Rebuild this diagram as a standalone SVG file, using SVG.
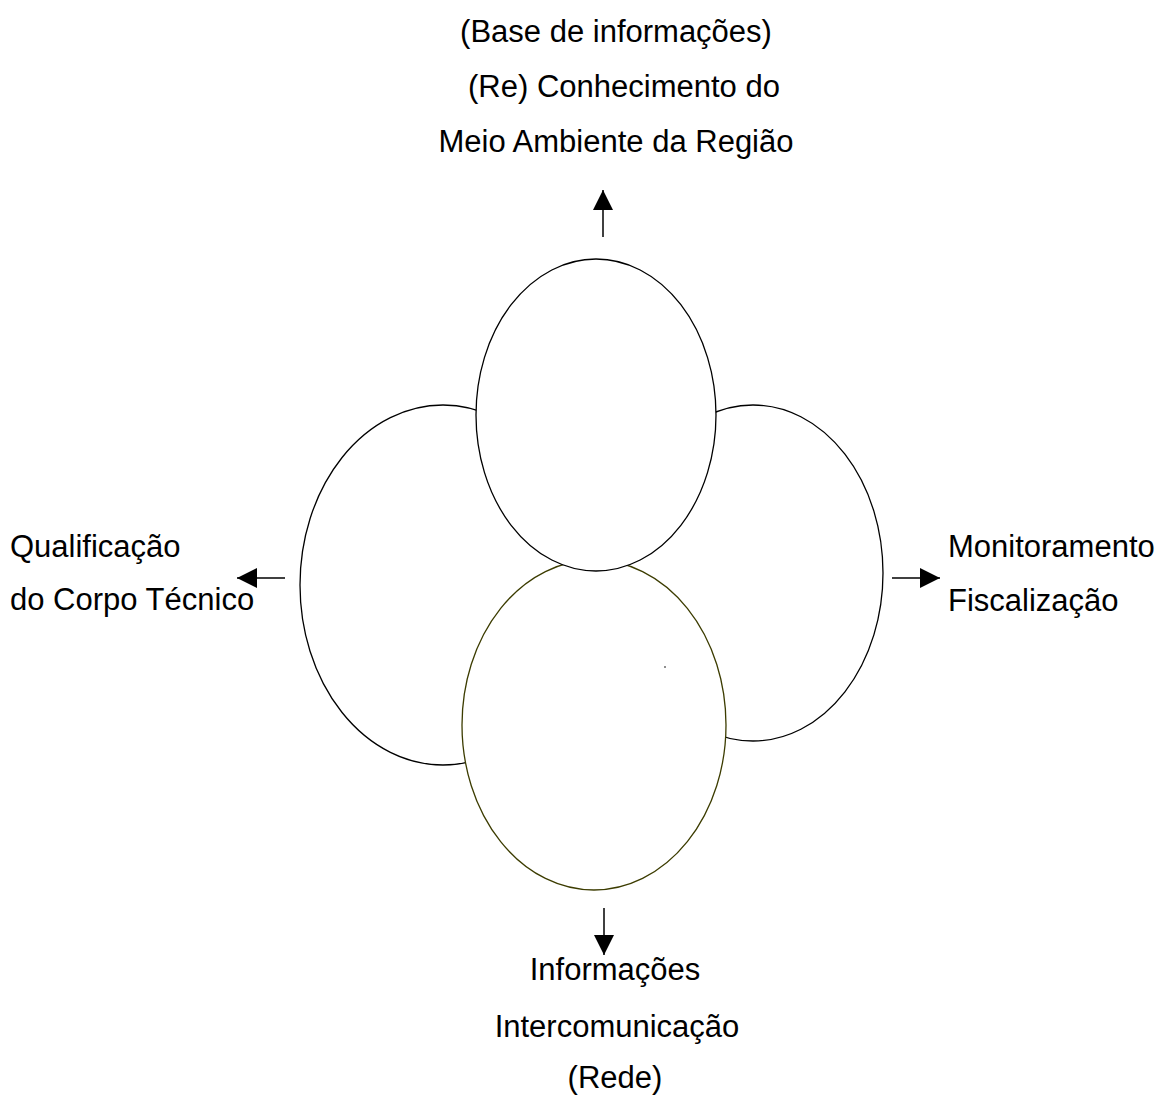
<svg xmlns="http://www.w3.org/2000/svg" width="1163" height="1095" viewBox="0 0 1163 1095">
<style>
.e{fill:#fff;stroke:#000;stroke-width:1.3}
.o{stroke:#3c3c00}
.t{font-family:"Liberation Sans",Arial,sans-serif;font-size:31px;fill:#000}
.c{stroke:#000;stroke-width:1.5;fill:none}
</style>
<defs>
<marker id="ah" viewBox="0 0 10 10" refX="10" refY="5" markerWidth="20" markerHeight="20" markerUnits="userSpaceOnUse" orient="auto"><path d="M0,0 L10,5 L0,10 Z" fill="#000"/></marker>
</defs>
<rect width="1163" height="1095" fill="#fff"/>
<g id="left"><ellipse class="e" cx="443" cy="585" rx="143" ry="180"/></g>
<g id="right"><ellipse class="e" cx="753" cy="573" rx="130" ry="168"/></g>
<g id="bottom"><ellipse class="e o" cx="594" cy="725" rx="132" ry="165"/><circle cx="665" cy="667" r="0.8" fill="#000"/></g>
<g id="top"><ellipse class="e" cx="596" cy="415" rx="120" ry="156"/></g>
<g id="connectors">
<line class="c" x1="603" y1="237" x2="603" y2="190" marker-end="url(#ah)"/>
<line class="c" x1="285" y1="578" x2="237" y2="578" marker-end="url(#ah)"/>
<line class="c" x1="892" y1="578" x2="940" y2="578" marker-end="url(#ah)"/>
<line class="c" x1="604" y1="908" x2="604" y2="955" marker-end="url(#ah)"/>
</g>
<g id="label-top" class="t" text-anchor="middle">
<text x="616" y="42">(Base de informações)</text>
<text x="624" y="97">(Re) Conhecimento do</text>
<text x="616" y="152">Meio Ambiente da Região</text>
</g>
<g id="label-left" class="t">
<text x="10" y="557">Qualificação</text>
<text x="10" y="610">do Corpo Técnico</text>
</g>
<g id="label-right" class="t">
<text x="948" y="557">Monitoramento</text>
<text x="948" y="611">Fiscalização</text>
</g>
<g id="label-bottom" class="t" text-anchor="middle">
<text x="615" y="980">Informações</text>
<text x="617" y="1037">Intercomunicação</text>
<text x="615" y="1088">(Rede)</text>
</g>
</svg>
